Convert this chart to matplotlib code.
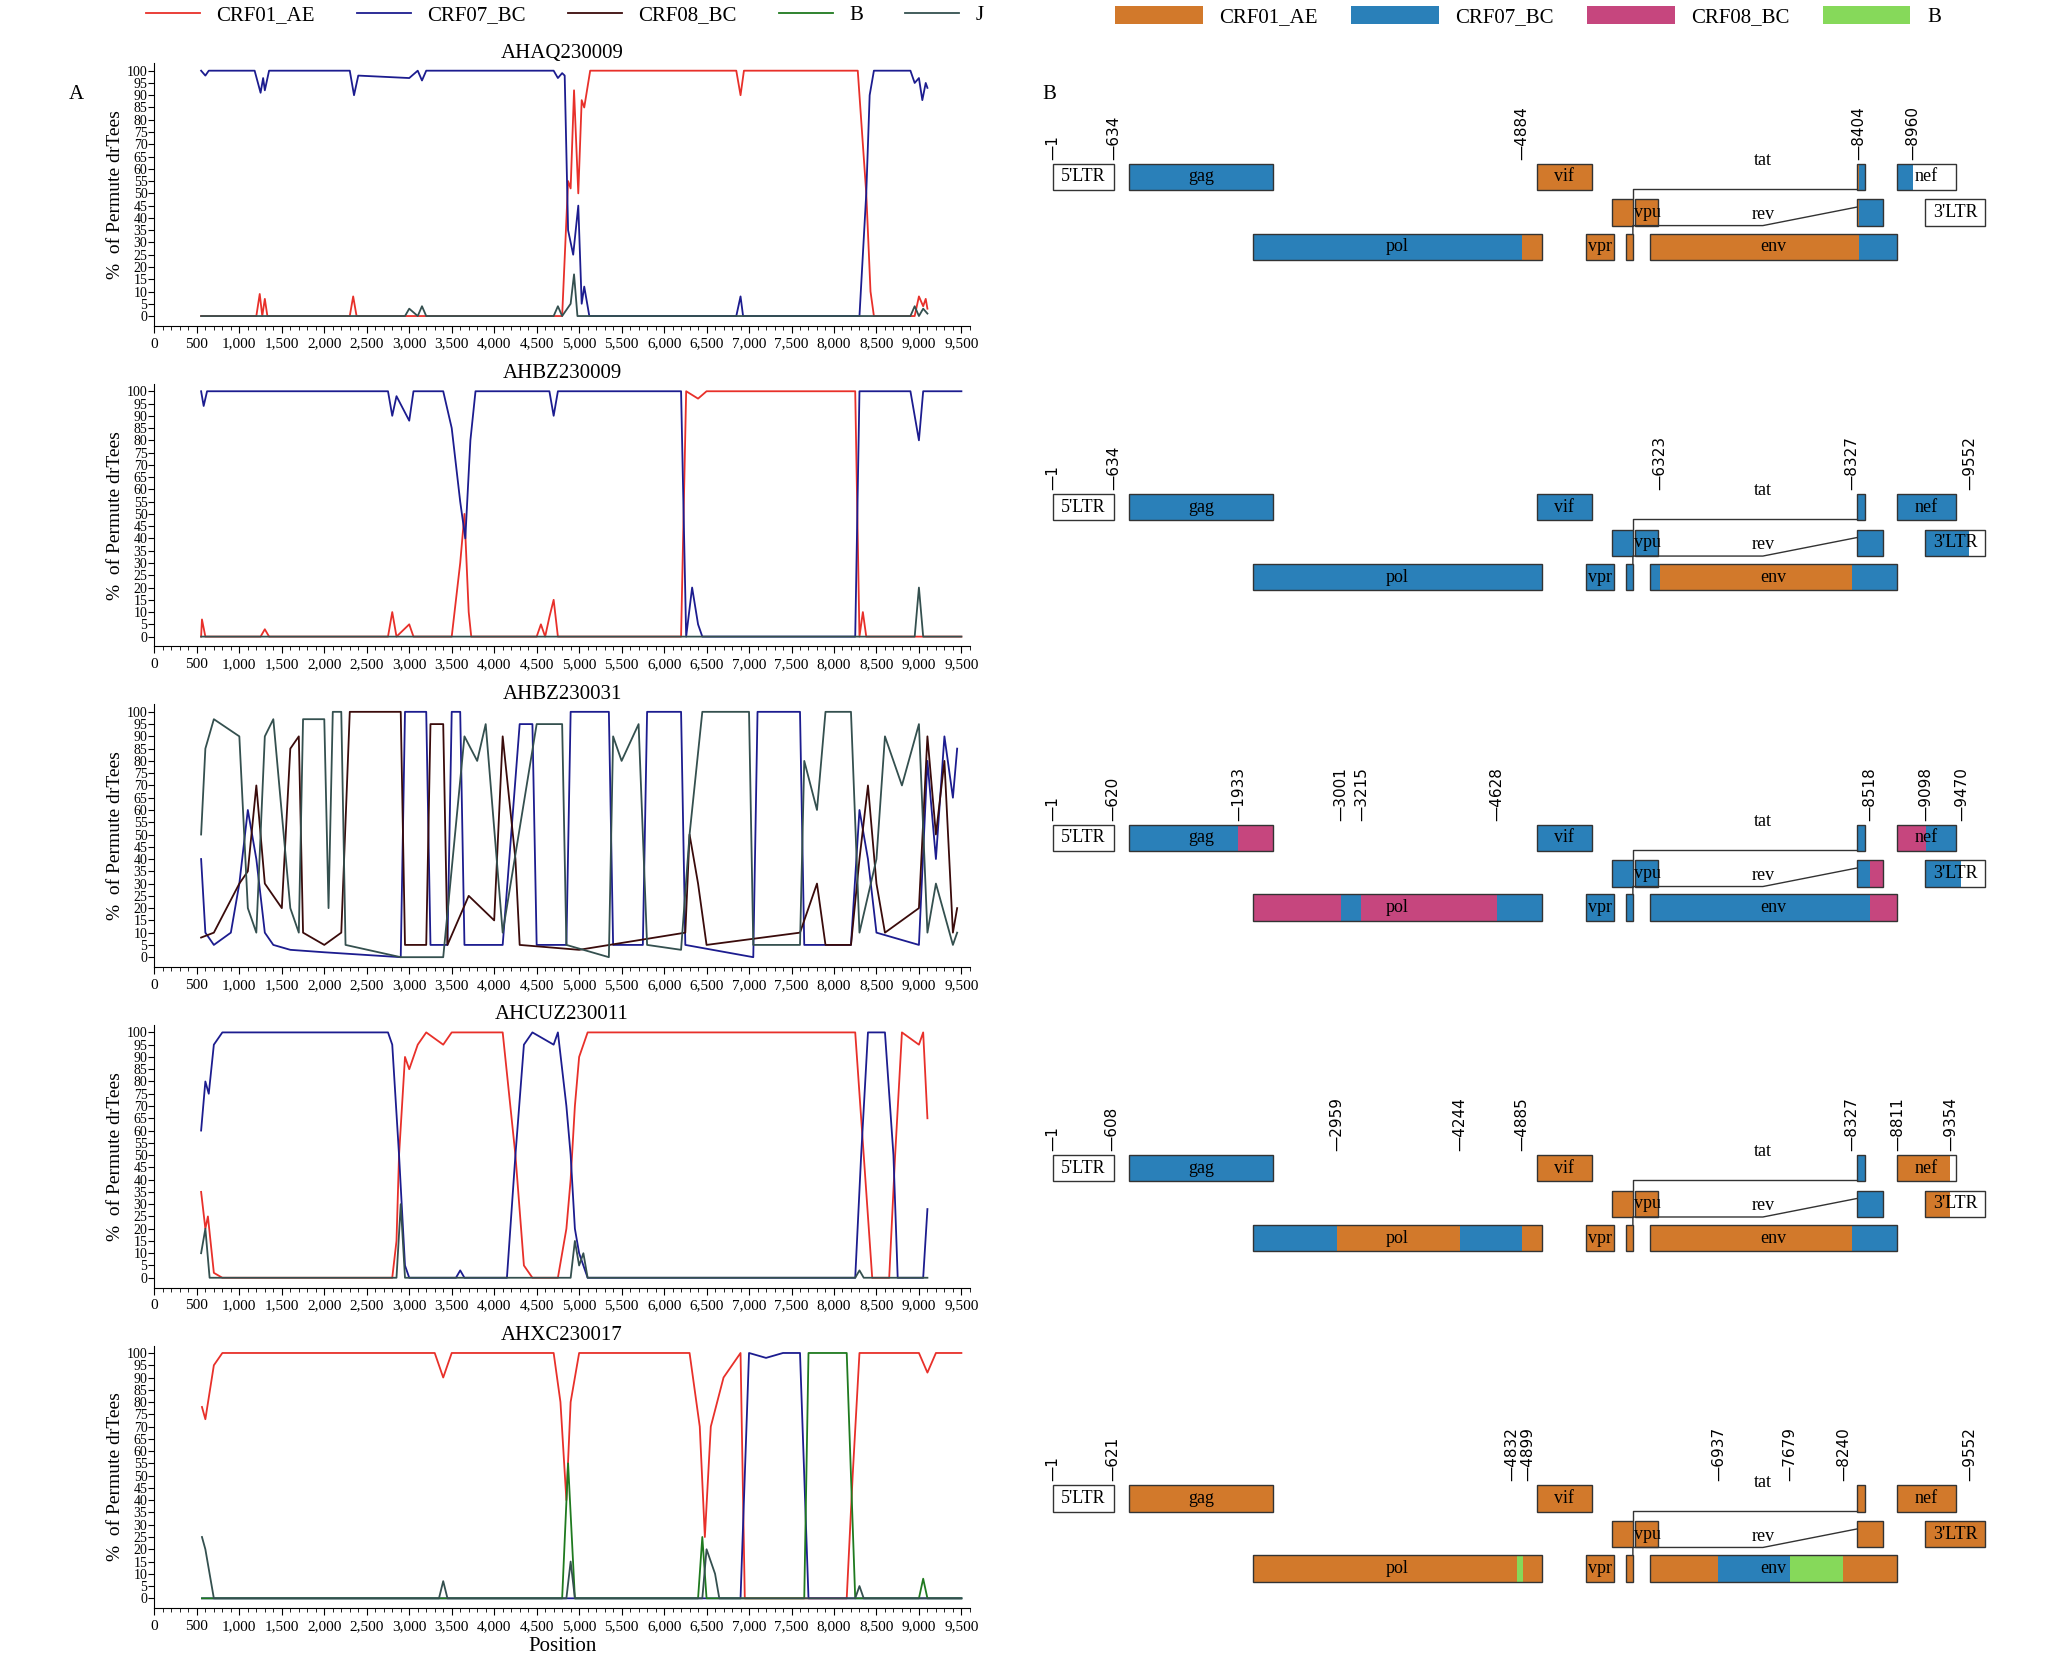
import matplotlib.pyplot as plt
from matplotlib.patches import Rectangle
from matplotlib.lines import Line2D

plt.rcParams['font.family'] = 'Liberation Serif'

subtypes = ["CRF01_AE", "CRF07_BC", "CRF08_BC", "B", "J"]
line_colors = {"CRF01_AE": "#e8302a", "CRF07_BC": "#1c1c8f", "CRF08_BC": "#3a0b0b",
               "B": "#1f7a1f", "J": "#34504f"}
box_colors = {"CRF01_AE": "#d2792b", "CRF07_BC": "#2a80b9", "CRF08_BC": "#c6467e",
              "B": "#86d95a", None: "white"}
samples = ["AHAQ230009", "AHBZ230009", "AHBZ230031", "AHCUZ230011", "AHXC230017"]

# bootscan curves, (position, % permuted trees)
p1_crf01 = [(550,0),(1200,0),(1240,9),(1270,0),(1300,7),(1330,0),(2300,0),(2340,8),(2380,0),(4800,0),
            (4870,55),(4900,52),(4940,92),(4990,50),(5030,88),(5060,85),(5130,100),(6850,100),(6900,90),
            (6940,100),(8280,100),(8380,50),(8430,10),(8470,0),(8950,0),(9000,8),(9050,4),(9080,7),(9100,3)]
p1_crf07 = [(550,100),(600,98),(640,100),(1180,100),(1250,91),(1280,97),(1300,92),(1350,100),(2300,100),
            (2350,90),(2400,98),(3000,97),(3100,100),(3150,96),(3200,100),(4700,100),(4750,97),(4800,99),
            (4830,98),(4870,35),(4930,25),(4990,45),(5030,5),(5060,12),(5120,0),(6850,0),(6900,8),(6930,0),
            (8300,0),(8380,50),(8420,90),(8470,100),(8900,100),(8950,95),(9000,97),(9040,88),(9080,95),(9100,93)]
p1_j = [(550,0),(2950,0),(3000,3),(3100,0),(3150,4),(3200,0),(4700,0),(4750,4),(4800,0),(4900,5),
        (4940,17),(4980,0),(8900,0),(8950,4),(9000,0),(9050,3),(9100,1)]

p2_crf01 = [(550,0),(560,7),(600,0),(1250,0),(1300,3),(1350,0),(2750,0),(2800,10),(2850,0),(3000,5),
            (3050,0),(3500,0),(3600,30),(3650,50),(3700,10),(3730,0),(4500,0),(4550,5),(4600,0),(4650,8),
            (4700,15),(4750,0),(6200,0),(6260,100),(6400,97),(6500,100),(8250,100),(8300,0),(8340,10),
            (8380,0),(9500,0)]
p2_crf07 = [(550,100),(580,94),(620,100),(2750,100),(2800,90),(2850,98),(3000,88),(3050,100),(3400,100),
            (3500,85),(3600,55),(3660,40),(3720,80),(3780,100),(4650,100),(4700,90),(4750,100),(6200,100),
            (6260,0),(6330,20),(6400,5),(6450,0),(8250,0),(8300,100),(8900,100),(8950,90),(9000,80),
            (9050,100),(9500,100)]
p2_j = [(550,0),(8950,0),(9000,20),(9050,0),(9500,0)]

p3_crf07 = [(550,40),(600,10),(700,5),(900,10),(1000,30),(1100,60),(1200,40),(1300,10),(1400,5),(1600,3),
            (2000,2),(2900,0),(2950,100),(3200,100),(3250,5),(3450,5),(3500,100),(3600,100),(3650,5),
            (4100,5),(4300,95),(4450,95),(4500,5),(4850,5),(4900,100),(5350,100),(5400,5),(5750,5),
            (5800,100),(6200,100),(6250,5),(7050,0),(7100,100),(7600,100),(7650,5),(8200,5),(8300,60),
            (8400,40),(8500,10),(9000,5),(9100,80),(9200,40),(9300,90),(9400,65),(9450,85)]
p3_crf08 = [(550,8),(700,10),(1000,30),(1100,35),(1200,70),(1300,30),(1500,20),(1600,85),(1700,90),
            (1750,10),(2000,5),(2200,10),(2300,100),(2900,100),(2950,5),(3200,5),(3250,95),(3400,95),
            (3450,5),(3700,25),(4000,15),(4100,90),(4250,40),(4300,5),(5000,3),(6250,10),(6300,50),
            (6400,30),(6500,5),(7600,10),(7800,30),(7900,5),(8200,5),(8300,40),(8400,70),(8500,30),
            (8600,10),(9000,20),(9100,90),(9200,50),(9300,80),(9400,10),(9450,20)]
p3_j = [(550,50),(600,85),(700,97),(1000,90),(1100,20),(1200,10),(1300,90),(1400,97),(1600,20),(1700,10),
        (1750,97),(2000,97),(2050,20),(2100,100),(2200,100),(2250,5),(2900,0),(3200,0),(3400,0),(3650,90),
        (3800,80),(3900,95),(4100,10),(4500,95),(4800,95),(4850,5),(5350,0),(5400,90),(5500,80),(5700,95),
        (5800,5),(6200,3),(6300,50),(6450,100),(7000,100),(7050,5),(7600,5),(7650,80),(7800,60),(7900,100),
        (8200,100),(8300,10),(8500,40),(8600,90),(8800,70),(9000,95),(9100,10),(9200,30),(9400,5),(9450,10)]

p4_crf01 = [(550,35),(600,20),(630,25),(700,2),(800,0),(2800,0),(2850,15),(2880,50),(2950,90),(3000,85),
            (3100,95),(3200,100),(3400,95),(3500,100),(4100,100),(4250,50),(4350,5),(4450,0),(4750,0),
            (4850,20),(4900,40),(4950,70),(5000,90),(5100,100),(8250,100),(8350,50),(8450,0),(8650,0),
            (8720,50),(8800,100),(9000,95),(9050,100),(9100,65)]
p4_crf07 = [(550,60),(600,80),(640,75),(700,95),(800,100),(2750,100),(2800,95),(2880,50),(2950,5),(3000,0),
            (3550,0),(3600,3),(3650,0),(4150,0),(4250,50),(4350,95),(4450,100),(4700,95),(4750,100),
            (4850,70),(4900,50),(4950,20),(5000,10),(5100,0),(8250,0),(8320,50),(8400,100),(8600,100),
            (8700,50),(8750,0),(9050,0),(9100,28)]
p4_j = [(550,10),(600,20),(650,0),(2850,0),(2900,30),(2950,0),(4900,0),(4950,15),(5000,5),(5050,10),
        (5100,0),(8250,0),(8300,3),(8350,0),(9100,0)]

p5_crf01 = [(560,78),(600,73),(700,95),(800,100),(3300,100),(3400,90),(3500,100),(4700,100),(4780,80),
            (4850,40),(4900,80),(5000,100),(6300,100),(6420,70),(6480,25),(6550,70),(6700,90),(6800,95),
            (6900,100),(6950,0),(8150,0),(8220,50),(8300,100),(9000,100),(9100,92),(9200,100),(9500,100)]
p5_crf07 = [(560,0),(6900,0),(7000,100),(7200,98),(7400,100),(7600,100),(7700,0),(9500,0)]
p5_b = [(560,0),(4800,0),(4870,55),(4950,0),(6400,0),(6450,25),(6500,0),(7650,0),(7700,100),(8150,100),
        (8250,0),(9000,0),(9050,8),(9100,0),(9500,0)]
p5_j = [(560,25),(600,20),(700,0),(3350,0),(3400,7),(3450,0),(4850,0),(4900,15),(4950,0),(6450,0),
        (6500,20),(6600,10),(6650,0),(8250,0),(8300,5),(8350,0),(9500,0)]

curves = [
    {"CRF01_AE": p1_crf01, "CRF07_BC": p1_crf07, "J": p1_j},
    {"CRF01_AE": p2_crf01, "CRF07_BC": p2_crf07, "J": p2_j},
    {"CRF07_BC": p3_crf07, "CRF08_BC": p3_crf08, "J": p3_j},
    {"CRF01_AE": p4_crf01, "CRF07_BC": p4_crf07, "J": p4_j},
    {"CRF01_AE": p5_crf01, "CRF07_BC": p5_crf07, "B": p5_b, "J": p5_j},
]

# recombination maps: breakpoints and subtype of each segment (None = unassigned)
breakpoints = [[1, 634, 4884, 8404, 8960],
               [1, 634, 6323, 8327, 9552],
               [1, 620, 1933, 3001, 3215, 4628, 8518, 9098, 9470],
               [1, 608, 2959, 4244, 4885, 8327, 8811, 9354],
               [1, 621, 4832, 4899, 6937, 7679, 8240, 9552]]
segments = [[None, "CRF07_BC", "CRF01_AE", "CRF07_BC", None],
            [None, "CRF07_BC", "CRF01_AE", "CRF07_BC", None],
            [None, "CRF07_BC", "CRF08_BC", "CRF07_BC", "CRF08_BC", "CRF07_BC", "CRF08_BC", "CRF07_BC", None],
            [None, "CRF07_BC", "CRF01_AE", "CRF07_BC", "CRF01_AE", "CRF07_BC", "CRF01_AE", None],
            [None, "CRF01_AE", "B", "CRF01_AE", "CRF07_BC", "B", "CRF01_AE"]]

# HXB2 gene coordinates: name, start, end, row, show label
genes = [("5'LTR", 1, 634, 0, True), ("gag", 790, 2292, 0, True),
         ("vif", 5041, 5619, 0, True), ("tat2", 8379, 8469, 0, False),
         ("nef", 8797, 9417, 0, True), ("tat1", 5831, 6045, 1, False),
         ("vpu", 6062, 6310, 1, True), ("rev2", 8379, 8653, 1, False),
         ("3'LTR", 9086, 9719, 1, True), ("pol", 2085, 5096, 2, True),
         ("vpr", 5559, 5850, 2, True), ("rev1", 5970, 6045, 2, False),
         ("env", 6225, 8795, 2, True)]


def subtype_at(k, pos):
    st = segments[k][0]
    for b, s in zip(breakpoints[k], segments[k]):
        if pos >= b:
            st = s
    return st


fig = plt.figure(figsize=(20.48, 16.53), dpi=100)
H = 1253.0
W = 1552.0

for k, name in enumerate(samples):
    top = 48 + k * 243
    ax = fig.add_axes([117 / W, 1 - (top + 199) / H, 618 / W, 199 / H])
    for st, pts in curves[k].items():
        ax.plot([p[0] for p in pts], [p[1] for p in pts], color=line_colors[st], lw=1.3)
    ax.set_xlim(0, 9560)
    ax.set_ylim(-4, 103)
    ax.set_xticks(range(0, 9501, 500))
    ax.set_xticklabels([f"{v:,}" for v in range(0, 9501, 500)], fontsize=11)
    ax.set_xticks(range(0, 9601, 100), minor=True)
    ax.set_yticks(range(0, 101, 5))
    ax.set_yticklabels([str(v) for v in range(0, 101, 5)], fontsize=10)
    ax.tick_params(axis='y', length=4, pad=1)
    ax.tick_params(axis='x', which='major', length=5)
    ax.tick_params(axis='x', which='minor', length=3)
    for s in ["top", "right"]:
        ax.spines[s].set_visible(False)
    ax.set_title(name, fontsize=15, pad=4)
    ax.set_ylabel("%  of Permute drTees", fontsize=14, labelpad=2)
    if k == 4:
        ax.set_xlabel("Position", fontsize=15, labelpad=3)

fig.text(52 / W, 1 - 75 / H, "A", fontsize=15)
fig.text(790 / W, 1 - 75 / H, "B", fontsize=15)

# right panel in genome x, display-pixel y
bx = fig.add_axes([792 / W, 0, 720 / W, 1])
bx.set_xlim(-82, 9822)
bx.set_ylim(H, 0)
bx.axis("off")
row_h = 20
for k in range(5):
    r0 = 124 + k * 250.5
    rows = [r0, r0 + 27, r0 + 53]
    for gname, s, e, row, lab in genes:
        y = rows[row]
        if gname == "5'LTR":
            cuts = [s, e]
        else:
            cuts = [s] + [b for b in breakpoints[k] if s < b < e] + [e]
        for a, b in zip(cuts[:-1], cuts[1:]):
            st = None if gname == "5'LTR" else subtype_at(k, (a + b) / 2)
            bx.add_patch(Rectangle((a, y), b - a, row_h, facecolor=box_colors[st], edgecolor="none"))
        bx.add_patch(Rectangle((s, y), e - s, row_h, facecolor="none", edgecolor="#333333", lw=1))
        if lab:
            bx.text((s + e) / 2 if gname != "vpu" else s + 140, y + row_h / 2, gname, ha="center",
                    va="center", fontsize=13)
    # splice lines for tat and rev
    bx.plot([6045, 6045, 8379], [rows[1], rows[0] + 19, rows[0] + 19], color="#333333", lw=1)
    bx.text(7400, rows[0] + 4, "tat", ha="center", va="bottom", fontsize=13)
    bx.plot([6045, 6045, 7400, 8379], [rows[2], rows[1] + 20, rows[1] + 20, rows[1] + 6],
            color="#333333", lw=1)
    bx.text(7400, rows[1] + 18, "rev", ha="center", va="bottom", fontsize=13)
    bps = breakpoints[k]
    for i, b in enumerate(bps):
        xb = b
        if i > 0 and b - bps[i - 1] < 120:
            xb = b + 50
        elif i + 1 < len(bps) and bps[i + 1] - b < 120:
            xb = b - 50
        bx.text(xb, r0 - 3, "\u2014" + str(b), rotation=90, ha="center", va="bottom", fontsize=11,
                family="DejaVu Sans")

# legends
line_handles = [Line2D([], [], color=line_colors[s], lw=1.3) for s in subtypes]
fig.legend(line_handles, subtypes, loc="upper center", bbox_to_anchor=(428 / W, 1.008), ncol=5,
           frameon=False, fontsize=15, handlelength=2.6, columnspacing=2.0)
patch_subtypes = ["CRF01_AE", "CRF07_BC", "CRF08_BC", "B"]
patch_handles = [Rectangle((0, 0), 1, 1, facecolor=box_colors[s]) for s in patch_subtypes]
fig.legend(patch_handles, patch_subtypes, loc="upper center", bbox_to_anchor=(1158 / W, 1.008), ncol=4,
           frameon=False, fontsize=15, handlelength=4.2, handleheight=1.0, columnspacing=1.6)

fig.savefig("out.png", dpi=100)
